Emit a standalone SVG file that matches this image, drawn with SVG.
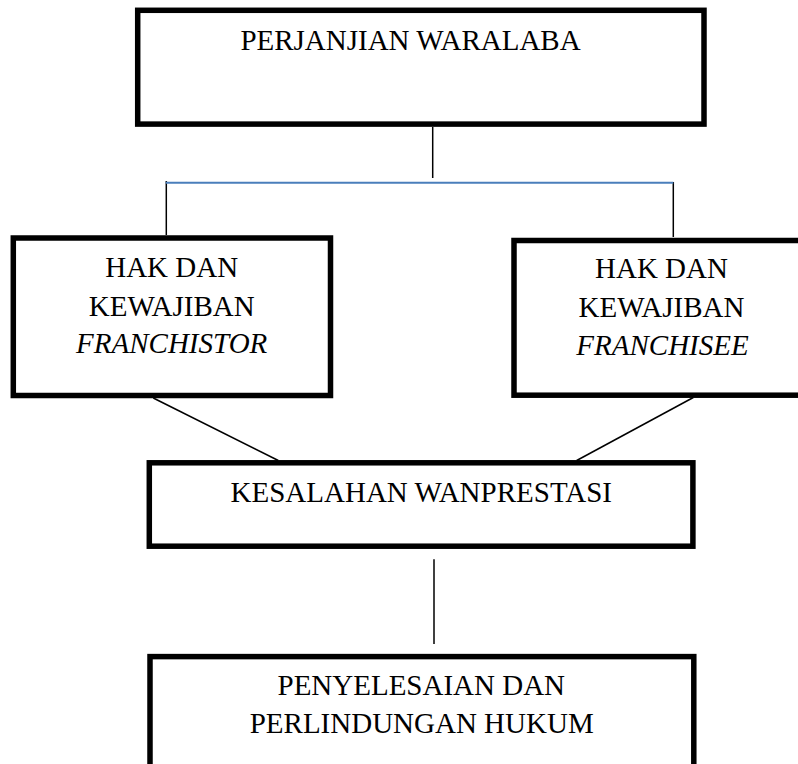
<svg xmlns="http://www.w3.org/2000/svg" width="798" height="764" viewBox="0 0 798 764">
<style>
.box{fill:#fff;stroke:#000;stroke-width:5.5}
.t{font-family:"Liberation Serif","Times New Roman",serif;font-size:29px;fill:#000;text-anchor:middle}
.i{font-style:italic}
.c{stroke:#000;stroke-width:1.5;fill:none}
.b{stroke:#4a7ebb;stroke-width:2;fill:none}
</style>
<rect width="798" height="764" fill="#fff"/>
<g id="connectors">
<line class="c" x1="432.7" y1="127" x2="432.7" y2="178"/>
<line class="c" x1="166.3" y1="181" x2="166.3" y2="235"/>
<line class="c" x1="673.3" y1="182" x2="673.3" y2="237"/>
<line class="b" x1="165.7" y1="182.7" x2="673.3" y2="182.7"/>
<line class="c" x1="153.3" y1="398" x2="278.3" y2="460.5"/>
<line class="c" x1="693.3" y1="397.5" x2="576.7" y2="460.5"/>
<line class="c" x1="434" y1="559.3" x2="434" y2="644"/>
</g>
<g id="perjanjian">
<rect class="box" x="137.7" y="10.3" width="566.3" height="113.8"/>
<text class="t" x="410.5" y="50">PERJANJIAN WARALABA</text>
</g>
<g id="franchistor">
<rect class="box" x="13.3" y="238" width="317.2" height="157.5"/>
<text class="t" x="171.7" y="277.3">HAK DAN</text>
<text class="t" x="171.7" y="315.7">KEWAJIBAN</text>
<text class="t i" x="171.7" y="353.3">FRANCHISTOR</text>
</g>
<g id="franchisee">
<rect class="box" x="514" y="240.5" width="300" height="154.7"/>
<text class="t" x="661.5" y="278.3">HAK DAN</text>
<text class="t" x="661.5" y="317.3">KEWAJIBAN</text>
<text class="t i" x="662.5" y="355">FRANCHISEE</text>
</g>
<g id="wanprestasi">
<rect class="box" x="149.3" y="462.8" width="543.6" height="83.4"/>
<text class="t" x="421.3" y="501.7">KESALAHAN WANPRESTASI</text>
</g>
<g id="penyelesaian">
<rect class="box" x="150" y="656.6" width="543.8" height="130"/>
<text class="t" x="421.3" y="695">PENYELESAIAN DAN</text>
<text class="t" x="421.7" y="733.3">PERLINDUNGAN HUKUM</text>
</g>
</svg>
